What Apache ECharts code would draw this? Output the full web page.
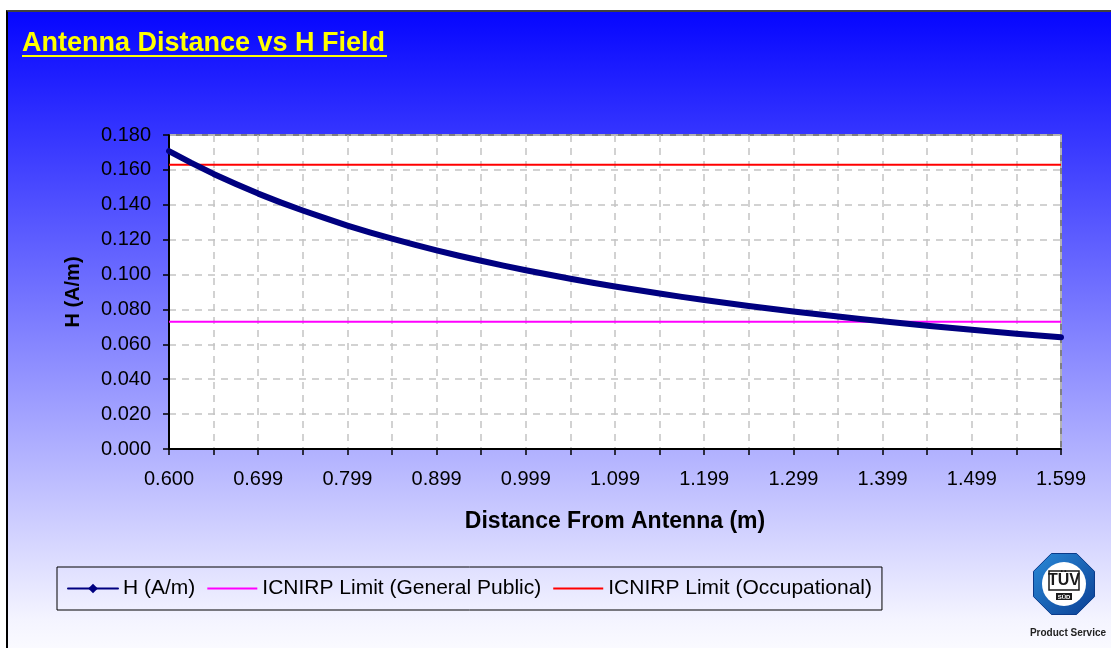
<!DOCTYPE html>
<html>
<head>
<meta charset="utf-8">
<script src="https://cdn.jsdelivr.net/npm/echarts/dist/echarts.min.js"></script>
<style>
  html, body { margin: 0; padding: 0; background: #ffffff; width: 1111px; height: 648px; overflow: hidden; }
  #frame { position: absolute; left: 6px; top: 10px; width: 1120px; height: 660px;
    border-top: 2px solid #404040; border-left: 2px solid #000000;
    background: linear-gradient(to bottom, #0606ff 0%, #7878ff 45%, #f4f4ff 92%, #ffffff 100%); }
  #chart { position: absolute; left: 0; top: 0; width: 1111px; height: 648px; }
</style>
</head>
<body>
<div id="frame"></div>
<div id="chart"></div>
<script>
// ---- data ----
const titleText = 'Antenna Distance vs H Field';
const xAxisTitle = 'Distance From Antenna (m)';
const yAxisTitle = 'H (A/m)';
const seriesNames = ['H (A/m)', 'ICNIRP Limit (General Public)', 'ICNIRP Limit (Occupational)'];

const distances = [
  '0.600','0.624','0.649','0.674','0.699','0.724','0.749','0.774','0.799','0.824',
  '0.849','0.874','0.899','0.924','0.949','0.974','0.999','1.024','1.049','1.074',
  '1.099','1.124','1.149','1.174','1.199','1.224','1.249','1.274','1.299','1.324',
  '1.349','1.374','1.399','1.424','1.449','1.474','1.499','1.524','1.549','1.574','1.599'
];
const hField = [
  0.1708,0.1640,0.1577,0.1519,0.1464,0.1414,0.1367,0.1323,0.1281,0.1242,
  0.1206,0.1171,0.1139,0.1108,0.1079,0.1051,0.1025,0.1000,0.0976,0.0953,
  0.0932,0.0911,0.0891,0.0872,0.0854,0.0837,0.0820,0.0804,0.0788,0.0774,
  0.0759,0.0745,0.0732,0.0719,0.0707,0.0695,0.0683,0.0672,0.0661,0.0651,0.0641
];
const limitGeneralPublic = 0.073;
const limitOccupational = 0.163;
const yTicks = { min: 0, max: 0.18, step: 0.02 };

const FONT = "'Liberation Sans', Arial, sans-serif";
const chart = echarts.init(document.getElementById('chart'), null, { renderer: 'canvas' });

const first = distances[0], last = distances[distances.length - 1];

const option = {
  backgroundColor: 'transparent',
  animation: false,
  textStyle: { fontFamily: FONT },
  grid: {
    left: 169, right: 50, top: 135, bottom: 199,
    show: true, backgroundColor: '#ffffff', borderColor: '#808080', borderWidth: 2
  },
  xAxis: {
    type: 'category',
    data: distances,
    boundaryGap: false,
    name: xAxisTitle,
    nameLocation: 'middle',
    nameGap: 61,
    nameTextStyle: { fontFamily: FONT, fontSize: 23, fontWeight: 'bold', color: '#000' },
    axisLine: { lineStyle: { color: '#000', width: 2 } },
    axisTick: { show: true, interval: 1, length: 6, lineStyle: { color: '#000', width: 1.5 } },
    axisLabel: { interval: 3, margin: 20, fontFamily: FONT, fontSize: 20, color: '#000' },
    splitLine: { show: true, interval: 1, lineStyle: { color: '#c4c4c4', width: 1.5, type: [7, 6] } }
  },
  yAxis: {
    type: 'value',
    min: yTicks.min, max: yTicks.max, interval: yTicks.step,
    name: yAxisTitle,
    nameLocation: 'middle',
    nameRotate: 90,
    nameGap: 86,
    nameTextStyle: { fontFamily: FONT, fontSize: 20, fontWeight: 'bold', color: '#000' },
    axisLine: { show: true, lineStyle: { color: '#000', width: 2 } },
    axisTick: { show: true, length: 6, lineStyle: { color: '#000', width: 1.5 } },
    axisLabel: { margin: 18, fontFamily: FONT, fontSize: 20, color: '#000', formatter: v => v.toFixed(3) },
    splitLine: { show: true, lineStyle: { color: '#c4c4c4', width: 1.5, type: [7, 6] } }
  },
  legend: {
    left: 57, top: 567,
    orient: 'horizontal',
    padding: [11, 10, 11, 10],
    borderColor: '#000', borderWidth: 1,
    itemWidth: 50, itemHeight: 12, itemGap: 11,
    textStyle: { fontFamily: FONT, fontSize: 21, color: '#000' },
    data: [
      { name: seriesNames[0], lineStyle: { width: 2 } },
      { name: seriesNames[1], lineStyle: { width: 2 }, itemStyle: { opacity: 0 } },
      { name: seriesNames[2], lineStyle: { width: 2 }, itemStyle: { opacity: 0 } }
    ]
  },
  series: [
    {
      name: seriesNames[1], type: 'line', symbol: 'none',
      data: [[first, limitGeneralPublic], [last, limitGeneralPublic]],
      lineStyle: { color: '#ff00ff', width: 2 }, itemStyle: { color: '#ff00ff' }, z: 2
    },
    {
      name: seriesNames[2], type: 'line', symbol: 'none',
      data: [[first, limitOccupational], [last, limitOccupational]],
      lineStyle: { color: '#ff0000', width: 2 }, itemStyle: { color: '#ff0000' }, z: 2
    },
    {
      name: seriesNames[0], type: 'line',
      data: hField,
      symbol: 'diamond', symbolSize: 5, showSymbol: true,
      lineStyle: { color: '#000080', width: 6, cap: 'round', join: 'round' },
      itemStyle: { color: '#000080' }, z: 3
    }
  ],
  graphic: [
    { type: 'text', left: 22, top: 30, z: 10,
      style: { text: titleText, fill: '#ffff00', font: "bold 27px 'Liberation Sans', Arial, sans-serif" } },
    { type: 'rect', shape: { x: 22, y: 55, width: 365, height: 2 }, style: { fill: '#ffff00' }, z: 10 },
    // logo
    { type: 'polygon', z: 10,
      shape: { points: (function () { const p = []; for (let i = 0; i < 8; i++) { const a = Math.PI / 8 + i * Math.PI / 4; p.push([1064 + 33 * Math.cos(a), 584 + 33 * Math.sin(a)]); } return p; })() },
      style: { fill: new echarts.graphic.LinearGradient(0, 0, 1, 1, [{ offset: 0, color: '#2a8ad8' }, { offset: 1, color: '#0b3f94' }]), stroke: '#0a3a8a', lineWidth: 1 } },
    { type: 'circle', z: 11, shape: { cx: 1064, cy: 584, r: 22 }, style: { fill: '#ffffff' } },
    { type: 'rect', z: 12, shape: { x: 1049, y: 571, width: 30, height: 19 }, style: { fill: 'none', stroke: '#1a1a1a', lineWidth: 1.5 } },
    { type: 'text', z: 12, x: 1064, y: 581, style: { text: 'TÜV', fill: '#1a1a1a', font: "bold 16px 'Liberation Sans', Arial", align: 'center', verticalAlign: 'middle' } },
    { type: 'rect', z: 12, shape: { x: 1056, y: 593, width: 16, height: 7 }, style: { fill: '#1a1a1a' } },
    { type: 'text', z: 13, x: 1064, y: 597, style: { text: 'SÜD', fill: '#ffffff', font: "bold 6px 'Liberation Sans', Arial", align: 'center', verticalAlign: 'middle' } },
    { type: 'text', z: 12, x: 1068, y: 633, style: { text: 'Product Service', fill: '#222', font: "bold 10px 'Liberation Sans Narrow', 'Liberation Sans', Arial", align: 'center', verticalAlign: 'middle' } }
  ]
};
chart.setOption(option);
</script>
</body>
</html>
